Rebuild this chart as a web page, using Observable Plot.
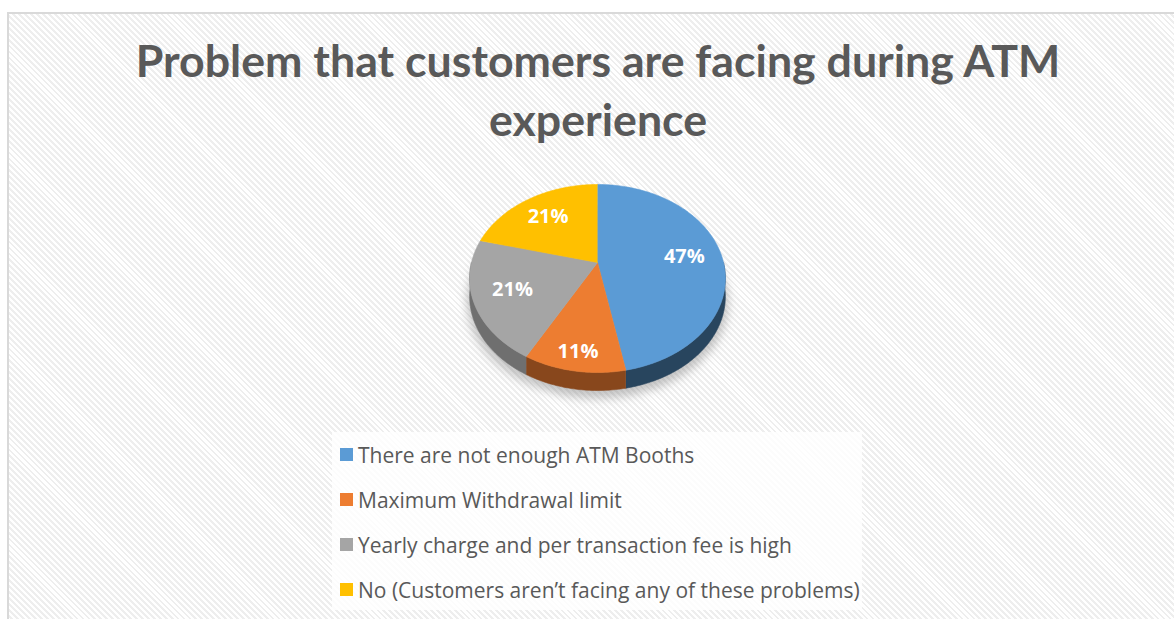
<!DOCTYPE html>
<html><head><meta charset="utf-8">
<script src="https://cdn.jsdelivr.net/npm/d3@7"></script>
<script src="https://cdn.jsdelivr.net/npm/@observablehq/plot@0.6"></script>
<style>
html,body{margin:0;padding:0;width:1174px;height:619px;overflow:hidden;background:#fff;}
#frame{position:absolute;left:7px;top:12px;width:1200px;height:640px;border:2px solid #d9d9d9;box-sizing:border-box;
  background:repeating-linear-gradient(45deg,#ffffff 0px,#ffffff 2.2px,#eeeeee 2.2px,#eeeeee 4.2px);}
#title{position:absolute;left:0;top:31px;width:1196px;text-align:center;font-family:Lato,sans-serif;font-weight:bold;
  font-size:44.7px;line-height:59px;color:#595959;}
#chart{position:absolute;left:447px;top:170px;}
#legend{position:absolute;left:332px;top:432px;width:530px;height:178px;background:rgba(255,255,255,0.8);}
.row{position:absolute;left:8px;height:45px;display:flex;align-items:center;font-family:"Open Sans",sans-serif;
  font-size:21px;color:#595959;white-space:nowrap;}
.sw{width:13px;height:13px;margin-right:5px;flex:none;}
</style></head>
<body>
<div id="frame"></div>
<div id="title">Problem that customers are facing during ATM<br>experience</div>
<div id="chart"></div>
<div id="legend"></div>
<script>
// ---- data ----
const categories = [
  "There are not enough ATM Booths",
  "Maximum Withdrawal limit",
  "Yearly charge and per transaction fee is high",
  "No (Customers aren’t facing any of these problems)"
];
const shares = [47, 11, 21, 21];
const pctLabels = ["47%", "11%", "21%", "21%"];
const colors = ["#5B9BD5", "#ED7D31", "#A5A5A5", "#FFC000"];

// ---- 3D pie geometry (perspective-tilted disc) ----
const RX = 126, RY = 91.3, K = 0.17, DEPTH = 18;
function proj(t, f = 1) {
  const w = 1 + K * f * Math.cos(t);
  return [RX * f * Math.sin(t) / w, -RY * f * Math.cos(t) / w];
}
const total = d3.sum(shares);
let acc = 0;
const slices = shares.map((v, i) => {
  const a0 = acc / total * 2 * Math.PI; acc += v;
  const a1 = acc / total * 2 * Math.PI;
  return {i, v, a0, a1, color: colors[i], label: pctLabels[i]};
});
const STEP = Math.PI / 180;
function arcAngles(a0, a1, step = STEP) {
  const n = Math.max(2, Math.ceil((a1 - a0) / step));
  return d3.range(n + 1).map(k => a0 + (a1 - a0) * k / n);
}

// shadow
const shadowPts = arcAngles(0, 2 * Math.PI).map(t => {
  const [x, y] = proj(t, 1.02);
  return {x, y: y + DEPTH + 5};
});

// side walls (front half only), one polygon per slice, shaded by its mean angle
const sides = [];
slices.forEach(s => {
  const lo = Math.max(s.a0, Math.PI / 2), hi = Math.min(s.a1, 3 * Math.PI / 2);
  if (hi <= lo) return;
  const ts = arcAngles(lo, hi);
  const dark = 0.40 + 0.14 * Math.sin((lo + hi) / 2) + 0.05;
  const fill = d3.interpolateRgb(s.color, "#000")(dark);
  const id = `side-${s.i}`;
  ts.forEach(t => { const [x, y] = proj(t); sides.push({id, x, y, fill}); });
  ts.slice().reverse().forEach(t => { const [x, y] = proj(t); sides.push({id, x, y: y + DEPTH, fill}); });
});

// top faces
const tops = [];
slices.forEach(s => {
  const id = `top-${s.i}`;
  tops.push({id, x: 0, y: 0, fill: s.color});
  arcAngles(s.a0, s.a1).forEach(t => {
    const [x, y] = proj(t);
    tops.push({id, x, y, fill: s.color});
  });
});

// data labels
const labelPts = slices.map(s => {
  const tm = (s.a0 + s.a1) / 2;
  const f = s.v / total < 0.15 ? 0.85 : 0.7;
  const [x, y] = proj(tm, f);
  return {x, y, text: s.label};
});

const plot = Plot.plot({
  width: 300, height: 240,
  margin: 0,
  x: {domain: [-150, 150], range: [0, 300], axis: null},
  y: {domain: [-92, 148], range: [0, 240], axis: null},
  color: {type: "identity"},
  marks: [
    Plot.line(shadowPts, {x: "x", y: "y", fill: "#808080", fillOpacity: 0.45, stroke: "none"}),
    Plot.line(sides, {x: "x", y: "y", z: "id", fill: "fill", stroke: "fill", strokeWidth: 0.6}),
    Plot.line(tops, {x: "x", y: "y", z: "id", fill: "fill", stroke: "fill", strokeWidth: 0.6}),
    Plot.text(labelPts, {x: "x", y: "y", text: "text", fill: "white", fontSize: 20, fontWeight: "bold",
      fontFamily: "Open Sans", lineAnchor: "middle", textAnchor: "middle"})
  ]
});
plot.style.overflow = "visible";
document.getElementById("chart").appendChild(plot);
// blur the shadow
const svg = d3.select(plot);
svg.insert("defs", ":first-child").append("filter").attr("id", "pieShadow")
  .attr("x", "-50%").attr("y", "-50%").attr("width", "200%").attr("height", "200%")
  .append("feGaussianBlur").attr("stdDeviation", 5);
svg.select('g[aria-label="line"]').attr("filter", "url(#pieShadow)");

// legend
const legend = d3.select("#legend");
categories.forEach((c, i) => {
  const row = legend.append("div").attr("class", "row").style("top", `${i * 45}px`);
  row.append("div").attr("class", "sw").style("background", colors[i]);
  row.append("span").text(c);
});
</script>
</body></html>
